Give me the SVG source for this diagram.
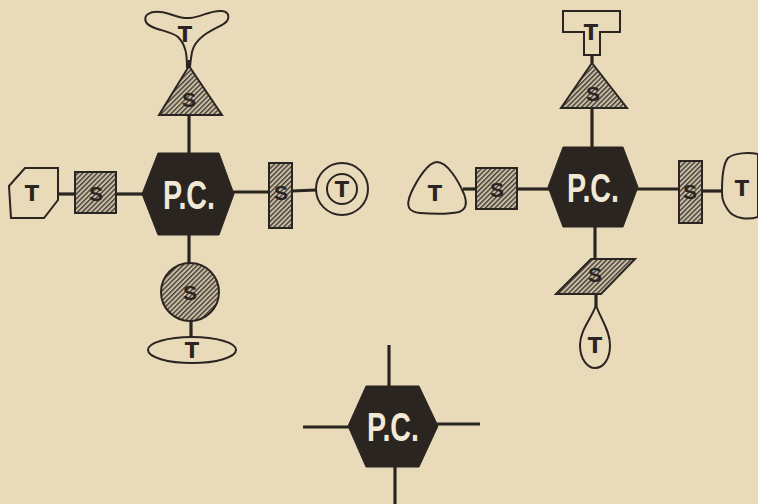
<svg xmlns="http://www.w3.org/2000/svg" width="758" height="504" viewBox="0 0 758 504">
<defs>
<pattern id="hatch" patternUnits="userSpaceOnUse" width="3.4" height="3.4" patternTransform="rotate(45)">
<rect width="3.4" height="3.4" fill="#cabea6"/>
<line x1="0.7" y1="0" x2="0.7" y2="3.4" stroke="#3a332d" stroke-width="1.3"/>
</pattern>
<style>
.bg{fill:#e9dbba}
.ln{stroke:#2b2521;stroke-width:3.2;fill:none;stroke-linecap:butt}
.hx{fill:#2b2521;stroke:#2b2521;stroke-width:1}
.s{fill:url(#hatch);stroke:#2b2521;stroke-width:2}
.t{fill:none;stroke:#2b2521;stroke-width:2}
.pc{font-family:"Liberation Sans",Arial,sans-serif;font-weight:bold;font-size:40px;fill:#f1e8d6;text-anchor:middle}
.lt{font-family:"DejaVu Sans",Verdana,sans-serif;font-weight:bold;font-size:21px;fill:#2b2521;text-anchor:middle}
.ls{font-family:"Liberation Sans",Arial,sans-serif;font-weight:bold;font-size:21px;fill:#2b2521;text-anchor:middle}
</style>
</defs>
<rect class="bg" x="0" y="0" width="758" height="504"/>

<g id="connectors">
<line class="ln" x1="189" y1="115" x2="189" y2="154"/>
<line class="ln" x1="189" y1="60" x2="189" y2="68"/>
<line class="ln" x1="116" y1="194" x2="143" y2="194"/>
<line class="ln" x1="58" y1="194" x2="74" y2="194"/>
<line class="ln" x1="233" y1="192" x2="269" y2="192"/>
<line class="ln" x1="292" y1="191" x2="316" y2="190"/>
<line class="ln" x1="189" y1="235" x2="189" y2="263"/>
<line class="ln" x1="191" y1="321" x2="191" y2="337"/>
<line class="ln" x1="592" y1="108" x2="592" y2="148"/>
<line class="ln" x1="592" y1="55" x2="592" y2="63"/>
<line class="ln" x1="517" y1="189" x2="549" y2="189"/>
<line class="ln" x1="463" y1="189" x2="476" y2="189"/>
<line class="ln" x1="637" y1="189" x2="679" y2="189"/>
<line class="ln" x1="702" y1="191" x2="722" y2="191"/>
<line class="ln" x1="595" y1="226" x2="595" y2="259"/>
<line class="ln" x1="596" y1="294" x2="596" y2="306"/>
<line class="ln" x1="389" y1="345" x2="389" y2="387"/>
<line class="ln" x1="303" y1="427" x2="349" y2="427"/>
<line class="ln" x1="437" y1="424" x2="480" y2="424"/>
<line class="ln" x1="395" y1="466" x2="395" y2="504"/>
</g>

<g id="pc1">
<polygon class="hx" points="158,153 219,153 234,194 219,235 158,235 142,194"/>
<text class="pc" x="189" y="209" textLength="52" lengthAdjust="spacingAndGlyphs">P.C.</text>
</g>
<g id="s1-top">
<polygon class="s" points="189,66 222,115 159,115"/>
<text class="ls" x="189" y="107">S</text>
</g>
<g id="t1-top">
<path class="t" d="M187,68 C187,55 186,45 178,37 C170,30 150,30 146,22 C143,15 150,11 160,12 C172,13 178,19 190,18 C202,17 210,10 222,11 C230,12 231,20 222,25 C210,31 195,38 192,52 C191,58 190,64 190,68"/>
<text class="lt" x="185" y="42">T</text>
</g>
<g id="s1-left">
<rect class="s" x="75" y="172" width="41" height="41"/>
<text class="ls" x="96" y="201">S</text>
</g>
<g id="t1-left">
<polygon class="t" points="9,186 25,168 58,168 58,200 44,218 11,218"/>
<text class="lt" x="32" y="201">T</text>
</g>
<g id="s1-right">
<rect class="s" x="269" y="163" width="23" height="65"/>
<text class="ls" x="281" y="200">S</text>
</g>
<g id="t1-right">
<circle class="t" cx="342" cy="189" r="26"/>
<circle class="t" cx="342" cy="189" r="15"/>
<text class="lt" x="342" y="197">T</text>
</g>
<g id="s1-bottom">
<circle class="s" cx="190" cy="292" r="29"/>
<text class="ls" x="190" y="300">S</text>
</g>
<g id="t1-bottom">
<ellipse class="t" cx="192" cy="350" rx="44" ry="13"/>
<text class="lt" x="192" y="358">T</text>
</g>

<g id="pc2">
<polygon class="hx" points="563,147 623,147 638,187 623,227 563,227 548,187"/>
<text class="pc" x="593" y="202" textLength="52" lengthAdjust="spacingAndGlyphs">P.C.</text>
</g>
<g id="s2-top">
<polygon class="s" points="592,63 627,108 561,108"/>
<text class="ls" x="593" y="101">S</text>
</g>
<g id="t2-top">
<polygon class="t" points="563,11 620,11 620,32 600,32 600,55 584,55 584,32 563,32"/>
<text class="lt" x="591" y="40">T</text>
</g>
<g id="s2-left">
<rect class="s" x="476" y="168" width="41" height="41"/>
<text class="ls" x="497" y="197">S</text>
</g>
<g id="t2-left">
<path class="t" d="M437,162 C428,162 417,180 411,193 C405,207 409,212 420,213 C433,214 450,214 459,212 C467,209 467,202 464,194 C458,180 447,162 437,162 Z"/>
<text class="lt" x="435" y="201">T</text>
</g>
<g id="s2-right">
<rect class="s" x="679" y="161" width="23" height="62"/>
<text class="ls" x="690" y="199">S</text>
</g>
<g id="t2-right">
<path class="t" d="M728,158 C734,153 748,152 758,154 L758,217 C748,220 734,219 728,210 C722,202 722,196 722,191 C722,182 722,165 728,158 Z"/>
<text class="lt" x="742" y="196">T</text>
</g>
<g id="s2-bottom">
<polygon class="s" points="591,259 635,259 601,294 556,294"/>
<text class="ls" x="595" y="282">S</text>
</g>
<g id="t2-bottom">
<path class="t" d="M596,305 C592,318 580,330 580,345 C580,360 588,368 595,368 C603,368 610,360 610,345 C610,330 600,318 596,305 Z"/>
<text class="lt" x="595" y="353">T</text>
</g>

<g id="pc3">
<polygon class="hx" points="366,386 419,386 438,426 419,467 366,467 348,426"/>
<text class="pc" x="393" y="441" textLength="52" lengthAdjust="spacingAndGlyphs">P.C.</text>
</g>
</svg>
